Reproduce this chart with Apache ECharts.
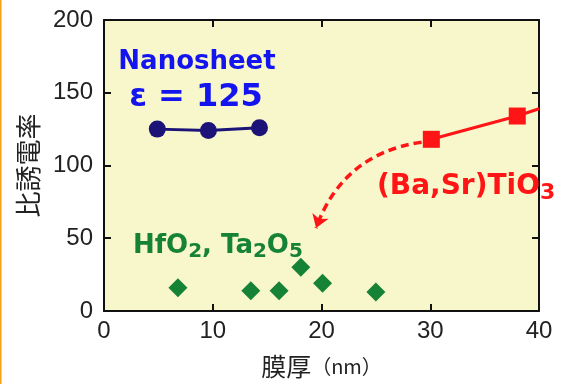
<!DOCTYPE html>
<html>
<head>
<meta charset="utf-8">
<style>
  html, body { margin: 0; padding: 0; background: #ffffff; }
  #chart { width: 565px; height: 384px; }
</style>
<script src="https://cdn.jsdelivr.net/npm/echarts@6/dist/echarts.min.js"></script>
</head>
<body>
<div id="chart"></div>
<script>
// Film thickness (nm) and relative permittivity for each material
var nanoThickness = [4.9, 9.6, 14.3];
var nanoK = [125, 124, 126];

var bstThickness = [30.1, 38.0, 40.0];
var bstK = [118, 134, 139];

var oxideThickness = [6.8, 13.5, 16.1, 18.1, 20.1, 25.0];
var oxideK = [16, 14, 14, 30, 19, 13];

// Dashed trend arrow: from the thinnest BST film towards the oxide region
var arrowFrom = [29.2, 116];
var arrowTo = [19.5, 57];

var xTicks = [0, 10, 20, 30, 40];
var yTicks = [0, 50, 100, 150, 200];

function pairs(xs, ys) {
  return xs.map(function (x, i) { return [x, ys[i]]; });
}

var bstData = pairs(bstThickness, bstK).map(function (p, i) {
  // the last point only carries the line out to the frame edge
  return i === bstThickness.length - 1 ? { value: p, symbol: 'none' } : p;
});

var tickFont = { fontFamily: 'Liberation Sans', fontSize: 24, color: '#222' };
var frame = { show: true, onZero: false, lineStyle: { color: '#111', width: 2 } };
var ticksIn = { show: true, inside: true, length: 7, lineStyle: { color: '#111', width: 2 } };

var chart = echarts.init(document.getElementById('chart'), null, { renderer: 'canvas' });

chart.setOption({
  animation: false,
  backgroundColor: '#ffffff',
  grid: {
    left: 104, right: 26, top: 20, bottom: 72,
    show: true, backgroundColor: '#f7f7cb', borderWidth: 0
  },
  xAxis: [{
    type: 'value', min: xTicks[0], max: xTicks[xTicks.length - 1], interval: 10,
    position: 'bottom',
    axisLine: frame, axisTick: ticksIn, splitLine: { show: false },
    axisLabel: Object.assign({ margin: 8 }, tickFont),
    name: '膜厚{p|（nm）}', nameLocation: 'middle', nameGap: 43,
    nameTextStyle: {
      fontFamily: 'Noto Sans CJK JP', fontSize: 25, color: '#222',
      rich: { p: { fontFamily: 'Noto Sans CJK JP', fontSize: 20, color: '#222' } }
    }
  }, {
    type: 'value', min: xTicks[0], max: xTicks[xTicks.length - 1], interval: 10,
    position: 'top',
    axisLine: frame, axisTick: ticksIn, axisLabel: { show: false }, splitLine: { show: false }
  }],
  yAxis: [{
    type: 'value', min: yTicks[0], max: yTicks[yTicks.length - 1], interval: 50,
    position: 'left',
    axisLine: frame, axisTick: ticksIn, splitLine: { show: false },
    axisLabel: Object.assign({ margin: 11 }, tickFont),
    name: '比誘電率', nameLocation: 'middle', nameGap: 63, nameRotate: 90,
    nameTextStyle: { fontFamily: 'Noto Sans CJK JP', fontSize: 26, color: '#222' }
  }, {
    type: 'value', min: yTicks[0], max: yTicks[yTicks.length - 1], interval: 50,
    position: 'right',
    axisLine: frame, axisTick: ticksIn, axisLabel: { show: false }, splitLine: { show: false }
  }],
  series: [{
    name: 'Nanosheet',
    type: 'line',
    data: pairs(nanoThickness, nanoK),
    symbol: 'circle', symbolSize: 17,
    itemStyle: { color: '#1b1377' },
    lineStyle: { color: '#1b1377', width: 3 },
    z: 5
  }, {
    name: '(Ba,Sr)TiO3',
    type: 'line',
    data: bstData,
    symbol: 'rect', symbolSize: 17,
    itemStyle: { color: '#ff1515' },
    lineStyle: { color: '#ff1515', width: 3 },
    z: 5
  }, {
    name: 'HfO2, Ta2O5',
    type: 'scatter',
    data: pairs(oxideThickness, oxideK),
    symbol: 'diamond', symbolSize: 19,
    itemStyle: { color: '#168236', opacity: 1 },
    z: 5
  }, {
    name: 'trend',
    type: 'lines',
    coordinateSystem: 'cartesian2d',
    symbol: ['none', 'arrow'],
    symbolSize: [0, 13],
    lineStyle: { color: '#ff1515', width: 3.5, type: [8, 5], curveness: -0.3, opacity: 1 },
    data: [{ coords: [arrowFrom, arrowTo] }],
    z: 4
  }],
  graphic: [{
    type: 'rect', left: 0, top: 0, z: 100,
    shape: { width: 1.5, height: 384 },
    style: { fill: '#f6a01c' }
  }, {
    type: 'text', x: 197, y: 62, z: 100,
    style: {
      text: 'Nanosheet', fill: '#1414ee',
      font: 'bold 26px "DejaVu Sans"', textAlign: 'center', textVerticalAlign: 'middle'
    }
  }, {
    type: 'text', x: 196, y: 98, z: 100,
    style: {
      text: 'ε = 125', fill: '#1414ee',
      font: 'bold 32px "DejaVu Sans"', textAlign: 'center', textVerticalAlign: 'middle'
    }
  }, {
    type: 'text', x: 377, y: 187, z: 100,
    style: {
      text: '(Ba,Sr)TiO{s|3}', fill: '#ff1515',
      fontFamily: 'DejaVu Sans', fontWeight: 'bold', fontSize: 28, lineHeight: 34,
      textAlign: 'left', textVerticalAlign: 'middle',
      rich: { s: { fontFamily: 'DejaVu Sans', fontWeight: 'bold', fontSize: 22, lineHeight: 21,
                   verticalAlign: 'bottom', fill: '#ff1515' } }
    }
  }, {
    type: 'text', x: 133, y: 246, z: 100,
    style: {
      text: 'HfO{s|2}, Ta{s|2}O{s|5}', fill: '#168236',
      fontFamily: 'DejaVu Sans', fontWeight: 'bold', fontSize: 26, lineHeight: 32,
      textAlign: 'left', textVerticalAlign: 'middle',
      rich: { s: { fontFamily: 'DejaVu Sans', fontWeight: 'bold', fontSize: 20, lineHeight: 19,
                   verticalAlign: 'bottom', fill: '#168236' } }
    }
  }]
});
</script>
</body>
</html>
